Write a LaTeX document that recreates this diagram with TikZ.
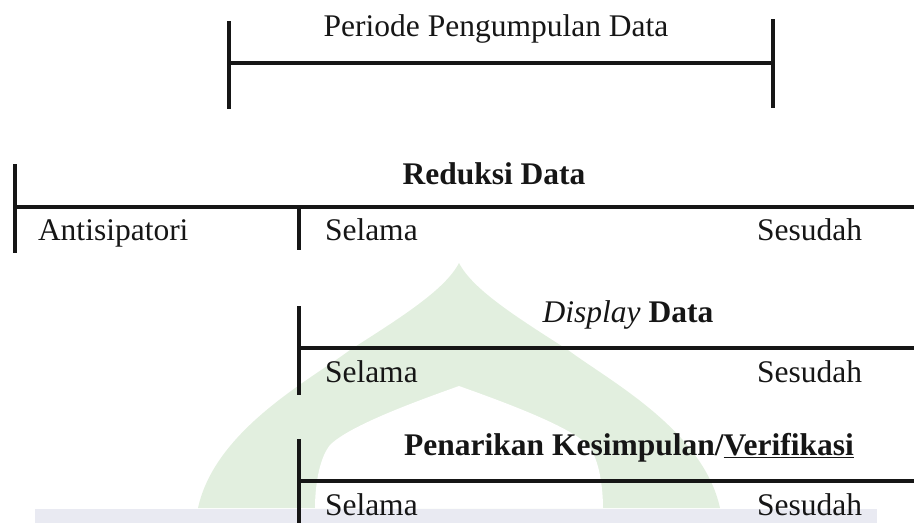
\documentclass[tikz,border=0pt]{standalone}
\usepackage{fontspec}
\setmainfont{Liberation Serif}
\definecolor{ink}{RGB}{22,22,22}
\definecolor{wmgreen}{RGB}{226,239,223}
\definecolor{wmband}{RGB}{233,234,242}
\begin{document}
\begin{tikzpicture}[x=1pt,y=-1pt,
  txt/.style={inner sep=0pt, outer sep=0pt, font=\fontsize{31.5}{36}\selectfont, text=ink},
  barline/.style={line width=3.2pt, draw=ink, line cap=butt},
  ruleline/.style={line width=3.8pt, draw=ink, line cap=butt}]
\useasboundingbox (0,0) rectangle (914,523);
% watermark
\fill[wmgreen] (459,263) .. controls (473,290) and (518,318) .. (568,350)
  .. controls (608,380) and (703,430) .. (720,508) -- (198,508)
  .. controls (215,430) and (310,380) .. (350,350)
  .. controls (400,318) and (445,290) .. (459,263) -- cycle;
\fill[white] (459,386) .. controls (498,400) and (568,425) .. (588,445)
  .. controls (600,460) and (603,490) .. (603,508) -- (315,508)
  .. controls (315,490) and (318,460) .. (330,445)
  .. controls (350,425) and (420,400) .. (459,386) -- cycle;
\fill[wmband] (35,509) rectangle (877,523);
% top: collection period
\node[txt, anchor=base] (periode) at (496,36) {Periode Pengumpulan Data};
\draw[barline] (229,21) -- (229,109);
\draw[barline] (773,19) -- (773,108);
\draw[ruleline] (229,63) -- (773,63);
% data reduction
\node[txt, anchor=base] (reduksi) at (494,184) {\bfseries Reduksi Data};
\draw[barline] (15,164) -- (15,253);
\draw[ruleline] (15,207) -- (914,207);
\draw[barline] (299,207) -- (299,250);
\node[txt, anchor=base west] (anti) at (38,240) {Antisipatori};
\node[txt, anchor=base west] (sel1) at (325,240) {Selama};
\node[txt, anchor=base east] (ses1) at (862,240) {Sesudah};
% display data
\node[txt, anchor=base] (display) at (628,322) {\textit{Display} \textbf{Data}};
\draw[barline] (299,306) -- (299,395);
\draw[ruleline] (299,348) -- (914,348);
\node[txt, anchor=base west] (sel2) at (325,382) {Selama};
\node[txt, anchor=base east] (ses2) at (862,382) {Sesudah};
% conclusion
\node[txt, anchor=base] (penarikan) at (629,455) {\bfseries Penarikan Kesimpulan/\underline{Verifikasi}};
\draw[barline] (299,439) -- (299,523);
\draw[ruleline] (299,481) -- (914,481);
\node[txt, anchor=base west] (sel3) at (325,515) {Selama};
\node[txt, anchor=base east] (ses3) at (862,515) {Sesudah};
\end{tikzpicture}
\end{document}
